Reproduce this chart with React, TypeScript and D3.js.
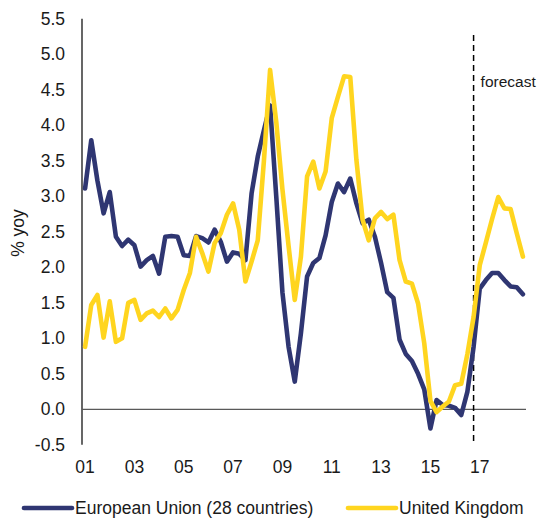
import React from "react";
import * as d3 from "d3";

const xLabels = ["01", "03", "05", "07", "09", "11", "13", "15", "17"];
const yTicks = [-0.5, 0.0, 0.5, 1.0, 1.5, 2.0, 2.5, 3.0, 3.5, 4.0, 4.5, 5.0, 5.5];

// Quarterly, 2001Q1 .. 2018Q4
const euValues = [
  3.11, 3.79, 3.22, 2.76, 3.06, 2.43, 2.30, 2.39, 2.31, 2.01, 2.10, 2.16,
  1.91, 2.43, 2.44, 2.43, 2.17, 2.16, 2.44, 2.41, 2.35, 2.53, 2.36, 2.08,
  2.21, 2.19, 2.10, 3.04, 3.56, 3.93, 4.28, 3.00, 1.65, 0.88, 0.39, 1.07,
  1.87, 2.06, 2.13, 2.45, 2.92, 3.18, 3.06, 3.25, 2.90, 2.62, 2.67, 2.43,
  2.06, 1.65, 1.57, 0.98, 0.78, 0.68, 0.50, 0.28, -0.27, 0.13, 0.06, 0.05,
  0.02, -0.08, 0.25, 0.88, 1.70, 1.82, 1.92, 1.92, 1.82, 1.73, 1.72, 1.62,
];
const ukValues = [
  0.88, 1.47, 1.61, 1.01, 1.52, 0.95, 1.00, 1.50, 1.54, 1.26, 1.35, 1.39,
  1.30, 1.42, 1.28, 1.40, 1.68, 1.92, 2.43, 2.20, 1.94, 2.34, 2.48, 2.74,
  2.90, 2.53, 1.80, 2.08, 2.38, 3.50, 4.78, 4.05, 3.10, 2.30, 1.54, 2.15,
  3.28, 3.49, 3.11, 3.35, 4.10, 4.40, 4.69, 4.68, 3.51, 2.67, 2.38, 2.69,
  2.78, 2.68, 2.74, 2.10, 1.80, 1.77, 1.49, 0.93, 0.12, -0.04, 0.04, 0.11,
  0.34, 0.36, 0.78, 1.30, 2.03, 2.35, 2.68, 2.99, 2.83, 2.82, 2.48, 2.15,
];
const seriesNames = ["European Union (28 countries)", "United Kingdom"];
const forecastIndex = 63;
const forecastLabel = "forecast";
const yTitle = "% yoy";

const EU_COLOR = "#2f3672";
const UK_COLOR = "#ffd51f";
const FONT = "'Liberation Sans', Arial, sans-serif";

export default function App() {
  const W = 540;
  const H = 522;
  const x = d3.scaleLinear().domain([-0.5, 71.5]).range([82, 526]);
  const y = d3.scaleLinear().domain([-0.5, 5.5]).range([444.8, 18.8]);
  const line = d3
    .line<number>()
    .x((_, i) => x(i))
    .y((d) => y(d));

  return (
    <div style={{ position: "absolute", left: 0, top: 0 }}>
      <svg width={W} height={H} style={{ display: "block", background: "#fff" }} fontFamily={FONT}>
        {/* y axis */}
        <line x1={x(-0.5)} x2={x(-0.5)} y1={y(5.5)} y2={y(-0.5)} stroke="#000" strokeWidth={1.2} />
        {yTicks.map((t) => (
          <text key={t} x={65} y={y(t)} textAnchor="end" dominantBaseline="central" fontSize={17.5} fill="#1a1a1a">
            {t.toFixed(1)}
          </text>
        ))}
        <text
          transform={`translate(18,${233}) rotate(-90)`}
          textAnchor="middle"
          dominantBaseline="central"
          fontSize={17.5}
          fill="#1a1a1a"
        >
          {yTitle}
        </text>
        {/* zero line */}
        <line x1={x(-0.5)} x2={x(71.5)} y1={y(0)} y2={y(0)} stroke="#595959" strokeWidth={1.3} />
        {/* x labels */}
        {xLabels.map((l, k) => (
          <text key={l} x={x(k * 8)} y={467} textAnchor="middle" dominantBaseline="central" fontSize={17.5} fill="#1a1a1a">
            {l}
          </text>
        ))}
        {/* forecast divider */}
        <line
          x1={x(forecastIndex)}
          x2={x(forecastIndex)}
          y1={35}
          y2={y(-0.5)}
          stroke="#000"
          strokeWidth={1.5}
          strokeDasharray="6,4"
        />
        <text x={x(forecastIndex) + 7} y={81} dominantBaseline="central" fontSize={15.5} fill="#1a1a1a">
          {forecastLabel}
        </text>
        {/* series */}
        <path d={line(euValues) || ""} fill="none" stroke={EU_COLOR} strokeWidth={4.6} strokeLinejoin="round" strokeLinecap="round" />
        <path d={line(ukValues) || ""} fill="none" stroke={UK_COLOR} strokeWidth={4.6} strokeLinejoin="round" strokeLinecap="round" />
        {/* legend */}
        <line x1={24} x2={72} y1={508} y2={508} stroke={EU_COLOR} strokeWidth={4.6} strokeLinecap="round" />
        <text x={75} y={508} dominantBaseline="central" fontSize={17.5} fill="#1a1a1a">
          {seriesNames[0]}
        </text>
        <line x1={348} x2={396} y1={508} y2={508} stroke={UK_COLOR} strokeWidth={4.6} strokeLinecap="round" />
        <text x={399} y={508} dominantBaseline="central" fontSize={17.5} fill="#1a1a1a">
          {seriesNames[1]}
        </text>
      </svg>
    </div>
  );
}
